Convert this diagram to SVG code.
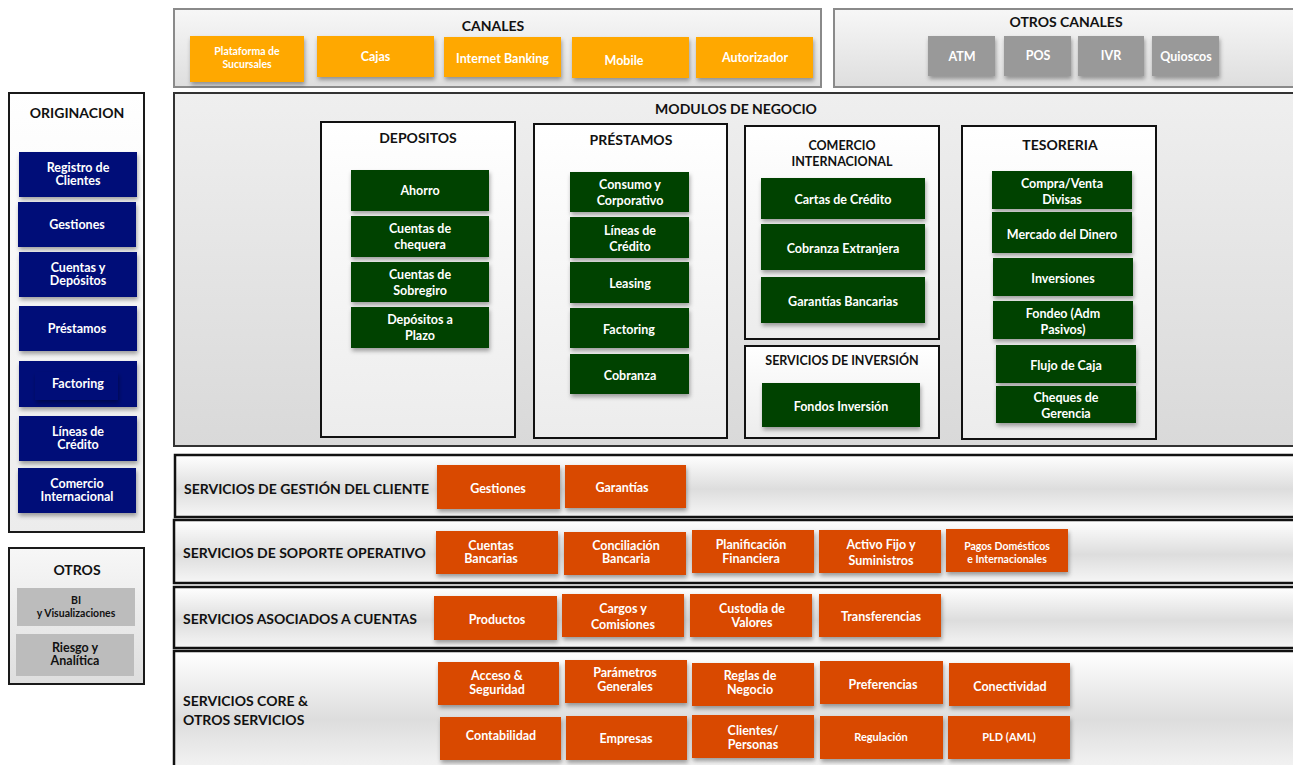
<svg xmlns="http://www.w3.org/2000/svg" width="1293" height="765" viewBox="0 0 1293 765">
<defs>
<linearGradient id="gPanel" x1="0" y1="0" x2="0" y2="1"><stop offset="0" stop-color="#f7f7f7"/><stop offset="1" stop-color="#dedede"/></linearGradient>
<linearGradient id="gMod" x1="0" y1="0" x2="0" y2="1"><stop offset="0" stop-color="#efefef"/><stop offset="1" stop-color="#d9d9d9"/></linearGradient>
<linearGradient id="gWhite" x1="0" y1="0" x2="0" y2="1"><stop offset="0" stop-color="#ffffff"/><stop offset="1" stop-color="#ececec"/></linearGradient>
<linearGradient id="gBand" x1="0" y1="0" x2="0" y2="1"><stop offset="0" stop-color="#ffffff"/><stop offset="0.55" stop-color="#dddddd"/><stop offset="1" stop-color="#f6f6f6"/></linearGradient>
<filter id="sh" x="-10%" y="-10%" width="130%" height="140%"><feDropShadow dx="1" dy="3" stdDeviation="2" flood-color="#000" flood-opacity="0.35"/></filter>
</defs>
<style>
text{font-family:Lato,"Liberation Sans",Arial,sans-serif;font-weight:bold;text-anchor:middle}
.t{fill:#111;font-size:14px}
.bl{fill:#111;font-size:14px;text-anchor:start}
.w{fill:#fff;font-size:12.5px}
.ws{fill:#fff;font-size:10.5px}
.k{fill:#111;font-size:12.5px}
.ks{fill:#111;font-size:10.5px}
.panelG{fill:url(#gPanel);stroke:#8a8a8a;stroke-width:2}
.panelK{fill:url(#gPanel);stroke:#1a1a1a;stroke-width:2}
.mod{fill:url(#gMod);stroke:#333;stroke-width:2}
.inner{fill:url(#gWhite);stroke:#111;stroke-width:2}
.band{fill:url(#gBand);stroke:#111;stroke-width:2.5}
.or{fill:#ffa800;filter:url(#sh)}
.gy{fill:#999999;filter:url(#sh)}
.bu{fill:#000f78;filter:url(#sh)}
.gr{fill:#014200;filter:url(#sh)}
.rd{fill:#d94800;filter:url(#sh)}
.lg{fill:#bcbcbc}
</style>

<g id="connectors"></g>

<!-- CANALES -->
<g id="canales">
<rect class="panelG" x="174" y="9" width="647" height="78"/>
<text class="t" x="493" y="31">CANALES</text>
</g>
<g id="c-plataforma"><rect class="or" x="190" y="36" width="114" height="46"/><text class="ws" x="247" y="55">Plataforma de<tspan x="247" dy="13">Sucursales</tspan></text></g>
<g id="c-cajas"><rect class="or" x="317" y="36" width="117" height="41"/><text class="w" x="375.5" y="61">Cajas</text></g>
<g id="c-internet"><rect class="or" x="444" y="37" width="117" height="40"/><text class="w" x="502.5" y="63">Internet Banking</text></g>
<g id="c-mobile"><rect class="or" x="572" y="37" width="117" height="41"/><text class="w" x="624" y="65">Mobile</text></g>
<g id="c-autorizador"><rect class="or" x="696" y="37" width="117" height="41"/><text class="w" x="755" y="62">Autorizador</text></g>

<!-- OTROS CANALES -->
<g id="otros-canales">
<rect class="panelG" x="834" y="9" width="470" height="78"/>
<text class="t" x="1066" y="27">OTROS CANALES</text>
</g>
<g id="oc-atm"><rect class="gy" x="928" y="36" width="67" height="40"/><text class="w" x="962" y="61">ATM</text></g>
<g id="oc-pos"><rect class="gy" x="1004" y="36" width="67" height="40"/><text class="w" x="1038" y="60">POS</text></g>
<g id="oc-ivr"><rect class="gy" x="1078" y="36" width="66" height="40"/><text class="w" x="1111" y="60">IVR</text></g>
<g id="oc-quioscos"><rect class="gy" x="1152" y="36" width="67" height="40"/><text class="w" x="1186" y="61">Quioscos</text></g>

<!-- ORIGINACION -->
<g id="originacion">
<rect class="panelK" x="9" y="93" width="135" height="439" style="fill:url(#gWhite)"/>
<text class="t" x="77" y="118">ORIGINACION</text>
</g>
<g id="o-registro"><rect class="bu" x="19" y="152" width="118" height="45"/><text class="w" x="78" y="172">Registro de<tspan x="78" dy="13">Clientes</tspan></text></g>
<g id="o-gestiones"><rect class="bu" x="18" y="202" width="118" height="45"/><text class="w" x="77" y="229">Gestiones</text></g>
<g id="o-cuentas"><rect class="bu" x="19" y="252" width="118" height="45"/><text class="w" x="78" y="272">Cuentas y<tspan x="78" dy="13">Depósitos</tspan></text></g>
<g id="o-prestamos"><rect class="bu" x="19" y="306" width="118" height="45"/><text class="w" x="77" y="333">Préstamos</text></g>
<g id="o-factoring"><rect class="bu" x="19" y="361" width="118" height="46"/><rect x="35" y="372" width="83" height="28" fill="#000f78" filter="url(#sh)"/><text class="w" x="78" y="388">Factoring</text></g>
<g id="o-lineas"><rect class="bu" x="19" y="416" width="118" height="45"/><text class="w" x="78" y="436">Líneas de<tspan x="78" dy="13">Crédito</tspan></text></g>
<g id="o-comercio"><rect class="bu" x="18" y="468" width="118" height="45"/><text class="w" x="77" y="488">Comercio<tspan x="77" dy="13">Internacional</tspan></text></g>

<!-- OTROS -->
<g id="otros">
<rect class="panelK" x="9" y="548" width="135" height="136"/>
<text class="t" x="77" y="575">OTROS</text>
</g>
<g id="ot-bi"><rect class="lg" x="17" y="588" width="118" height="38"/><text class="ks" x="76" y="604">BI<tspan x="76" dy="13">y Visualizaciones</tspan></text></g>
<g id="ot-riesgo"><rect class="lg" x="16" y="634" width="118" height="42"/><text class="k" x="75" y="652">Riesgo y<tspan x="75" dy="13">Analítica</tspan></text></g>

<!-- MODULOS DE NEGOCIO -->
<g id="modulos">
<rect class="mod" x="174" y="93" width="1130" height="353"/>
<text class="t" x="736" y="114">MODULOS DE NEGOCIO</text>
</g>

<g id="depositos">
<rect class="inner" x="321" y="122" width="194" height="315"/>
<text class="t" x="418" y="143">DEPOSITOS</text>
</g>
<g id="d-ahorro"><rect class="gr" x="351" y="170" width="138" height="41"/><text class="w" x="420" y="195">Ahorro</text></g>
<g id="d-chequera"><rect class="gr" x="351" y="216" width="138" height="41"/><text class="w" x="420" y="233">Cuentas de<tspan x="420" dy="16">chequera</tspan></text></g>
<g id="d-sobregiro"><rect class="gr" x="351" y="262" width="138" height="40"/><text class="w" x="420" y="279">Cuentas de<tspan x="420" dy="16">Sobregiro</tspan></text></g>
<g id="d-plazo"><rect class="gr" x="351" y="307" width="138" height="41"/><text class="w" x="420" y="324">Depósitos a<tspan x="420" dy="16">Plazo</tspan></text></g>

<g id="prestamos">
<rect class="inner" x="534" y="124" width="193" height="314"/>
<text class="t" x="631" y="145">PRÉSTAMOS</text>
</g>
<g id="p-consumo"><rect class="gr" x="570" y="172" width="119" height="40"/><text class="w" x="630" y="189">Consumo y<tspan x="630" dy="16">Corporativo</tspan></text></g>
<g id="p-lineas"><rect class="gr" x="570" y="217" width="119" height="41"/><text class="w" x="630" y="235">Líneas de<tspan x="630" dy="16">Crédito</tspan></text></g>
<g id="p-leasing"><rect class="gr" x="570" y="262" width="119" height="41"/><text class="w" x="630" y="288">Leasing</text></g>
<g id="p-factoring"><rect class="gr" x="570" y="308" width="119" height="40"/><text class="w" x="629" y="334">Factoring</text></g>
<g id="p-cobranza"><rect class="gr" x="570" y="354" width="119" height="40"/><text class="w" x="630" y="380">Cobranza</text></g>

<g id="comercio-int">
<rect class="inner" x="745" y="126" width="194" height="213"/>
<text class="k" x="842" y="150">COMERCIO<tspan x="842" dy="16">INTERNACIONAL</tspan></text>
</g>
<g id="ci-cartas"><rect class="gr" x="761" y="178" width="164" height="41"/><text class="w" x="843" y="204">Cartas de Crédito</text></g>
<g id="ci-cobranza"><rect class="gr" x="761" y="224" width="164" height="46"/><text class="w" x="843" y="253">Cobranza Extranjera</text></g>
<g id="ci-garantias"><rect class="gr" x="761" y="277" width="164" height="46"/><text class="w" x="843" y="306">Garantías Bancarias</text></g>

<g id="serv-inversion">
<rect class="inner" x="745" y="346" width="194" height="92"/>
<text class="k" x="842" y="365">SERVICIOS DE INVERSIÓN</text>
</g>
<g id="si-fondos"><rect class="gr" x="762" y="383" width="158" height="44"/><text class="w" x="841" y="411">Fondos Inversión</text></g>

<g id="tesoreria">
<rect class="inner" x="962" y="126" width="194" height="313"/>
<text class="t" x="1060" y="150">TESORERIA</text>
</g>
<g id="t-compra"><rect class="gr" x="992" y="171" width="140" height="38"/><text class="w" x="1062" y="188">Compra/Venta<tspan x="1062" dy="16">Divisas</tspan></text></g>
<g id="t-mercado"><rect class="gr" x="992" y="212" width="140" height="41"/><text class="w" x="1062" y="239">Mercado del Dinero</text></g>
<g id="t-inversiones"><rect class="gr" x="993" y="258" width="140" height="38"/><text class="w" x="1063" y="283">Inversiones</text></g>
<g id="t-fondeo"><rect class="gr" x="993" y="301" width="140" height="38"/><text class="w" x="1063" y="318">Fondeo (Adm<tspan x="1063" dy="16">Pasivos)</tspan></text></g>
<g id="t-flujo"><rect class="gr" x="996" y="345" width="140" height="38"/><text class="w" x="1066" y="370">Flujo de Caja</text></g>
<g id="t-cheques"><rect class="gr" x="996" y="386" width="140" height="37"/><text class="w" x="1066" y="402">Cheques de<tspan x="1066" dy="16">Gerencia</tspan></text></g>

<!-- SERVICIOS DE GESTION DEL CLIENTE -->
<g id="band-gestion">
<rect class="band" x="175" y="455" width="1130" height="62"/>
<text class="bl" x="184" y="494">SERVICIOS DE GESTIÓN DEL CLIENTE</text>
</g>
<g id="g-gestiones"><rect class="rd" x="437" y="465" width="123" height="44"/><text class="w" x="498" y="493">Gestiones</text></g>
<g id="g-garantias"><rect class="rd" x="565" y="465" width="121" height="43"/><text class="w" x="622" y="492">Garantías</text></g>

<!-- SOPORTE OPERATIVO -->
<g id="band-soporte">
<rect class="band" x="174" y="520" width="1130" height="63"/>
<text class="bl" x="183" y="558">SERVICIOS DE SOPORTE OPERATIVO</text>
</g>
<g id="so-cuentas"><rect class="rd" x="436" y="531" width="122" height="43"/><text class="w" x="491" y="550">Cuentas<tspan x="491" dy="13">Bancarias</tspan></text></g>
<g id="so-conciliacion"><rect class="rd" x="564" y="532" width="122" height="43"/><text class="w" x="626" y="550">Conciliación<tspan x="626" dy="13">Bancaria</tspan></text></g>
<g id="so-planificacion"><rect class="rd" x="692" y="530" width="122" height="43"/><text class="w" x="751" y="549">Planificación<tspan x="751" dy="14">Financiera</tspan></text></g>
<g id="so-activo"><rect class="rd" x="819" y="530" width="122" height="43"/><text class="w" x="881" y="549">Activo Fijo y<tspan x="881" dy="16">Suministros</tspan></text></g>
<g id="so-pagos"><rect class="rd" x="946" y="529" width="122" height="43"/><text class="ws" x="1007" y="550">Pagos  Domésticos<tspan x="1007" dy="13">e Internacionales</tspan></text></g>

<!-- ASOCIADOS A CUENTAS -->
<g id="band-cuentas">
<rect class="band" x="174" y="587" width="1130" height="61"/>
<text class="bl" x="183" y="624">SERVICIOS ASOCIADOS A CUENTAS</text>
</g>
<g id="ac-productos"><rect class="rd" x="434" y="596" width="123" height="44"/><text class="w" x="497" y="624">Productos</text></g>
<g id="ac-cargos"><rect class="rd" x="562" y="594" width="122" height="43"/><text class="w" x="623" y="613">Cargos y<tspan x="623" dy="16">Comisiones</tspan></text></g>
<g id="ac-custodia"><rect class="rd" x="690" y="594" width="122" height="43"/><text class="w" x="752" y="613">Custodia de<tspan x="752" dy="14">Valores</tspan></text></g>
<g id="ac-transferencias"><rect class="rd" x="819" y="594" width="122" height="43"/><text class="w" x="881" y="621">Transferencias</text></g>

<!-- CORE -->
<g id="band-core">
<rect class="band" x="174" y="651" width="1130" height="125"/>
<text class="bl" x="183" y="706">SERVICIOS CORE  &amp;<tspan x="183" dy="19">OTROS SERVICIOS</tspan></text>
</g>
<g id="cr-acceso"><rect class="rd" x="438" y="662" width="121" height="43"/><text class="w" x="497" y="680">Acceso &amp;<tspan x="497" dy="14">Seguridad</tspan></text></g>
<g id="cr-parametros"><rect class="rd" x="565" y="660" width="122" height="43"/><text class="w" x="625" y="677">Parámetros<tspan x="625" dy="14">Generales</tspan></text></g>
<g id="cr-reglas"><rect class="rd" x="692" y="663" width="122" height="43"/><text class="w" x="750" y="680">Reglas de<tspan x="750" dy="14">Negocio</tspan></text></g>
<g id="cr-preferencias"><rect class="rd" x="820" y="661" width="123" height="43"/><text class="w" x="883" y="689">Preferencias</text></g>
<g id="cr-conectividad"><rect class="rd" x="949" y="663" width="121" height="43"/><text class="w" x="1010" y="691">Conectividad</text></g>
<g id="cr-contabilidad"><rect class="rd" x="440" y="717" width="121" height="43"/><text class="w" x="501" y="740">Contabilidad</text></g>
<g id="cr-empresas"><rect class="rd" x="566" y="716" width="121" height="44"/><text class="w" x="626" y="743">Empresas</text></g>
<g id="cr-clientes"><rect class="rd" x="692" y="715" width="122" height="43"/><text class="w" x="753" y="735">Clientes/<tspan x="753" dy="14">Personas</tspan></text></g>
<g id="cr-regulacion"><rect class="rd" x="820" y="716" width="123" height="43"/><text class="w" x="881" y="741" style="font-size:11px">Regulación</text></g>
<g id="cr-pld"><rect class="rd" x="948" y="716" width="122" height="43"/><text class="w" x="1009" y="741" style="font-size:11px">PLD (AML)</text></g>
</svg>
